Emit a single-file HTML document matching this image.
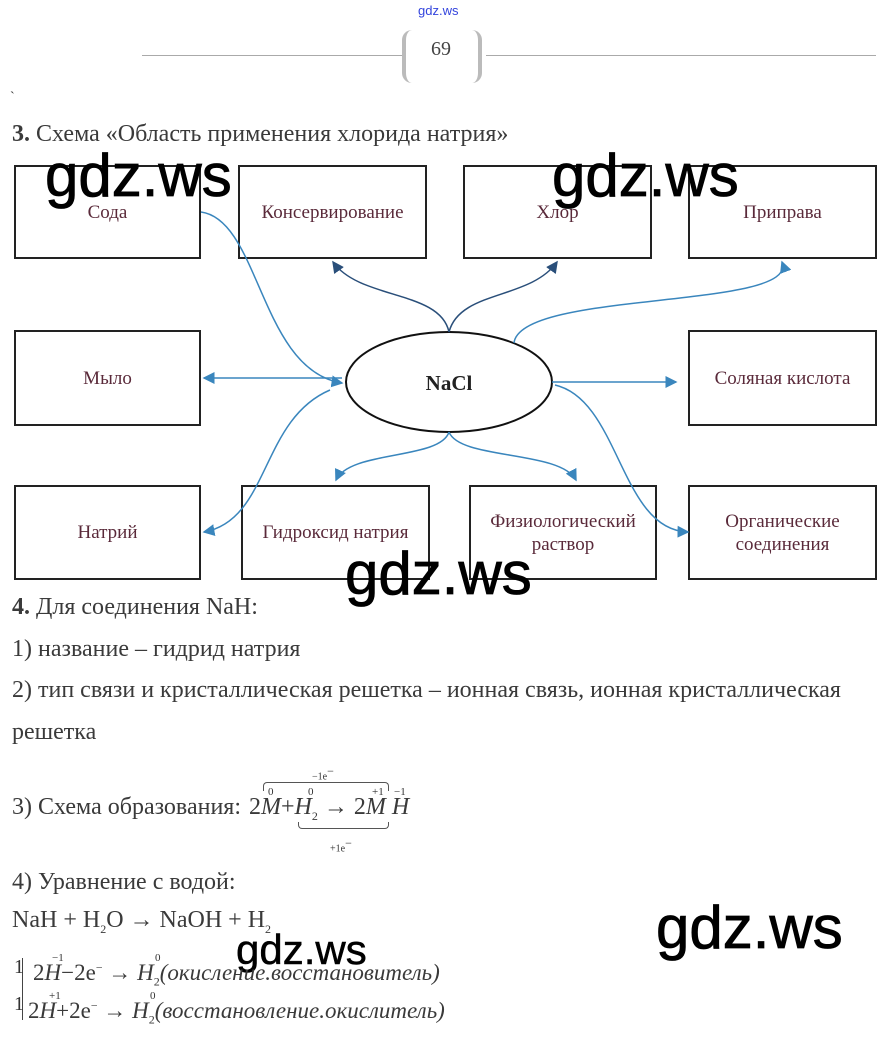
<!DOCTYPE html>
<html><head><meta charset="utf-8"><style>
body{margin:0;width:890px;height:1045px;background:#fff;position:relative;overflow:hidden;font-family:"Liberation Serif",serif;color:#333}
.a{position:absolute;white-space:nowrap}
.t{font-size:24px;color:#3a3a3a}
.wm{position:absolute;font-family:"Liberation Sans",sans-serif;font-size:60px;color:#000;line-height:1;letter-spacing:0px;-webkit-text-stroke:0.8px #000}
.box{position:absolute;border:2px solid #222;box-sizing:border-box;display:flex;align-items:center;justify-content:center;text-align:center;font-size:19px;color:#5a2a3a;line-height:23px}
i{font-style:italic}
sup,sub{font-size:12px}
</style></head><body>
<div class="a" style="left:418px;top:3px;font-family:'Liberation Sans',sans-serif;font-size:13px;color:#3344dd">gdz.ws</div>
<div class="a" style="left:142px;top:55px;width:260px;height:1px;background:#aaa"></div>
<div class="a" style="left:486px;top:55px;width:390px;height:1px;background:#aaa"></div>
<div class="a" style="left:402px;top:30px;width:80px;height:53px;border-left:4px solid #bbb;border-right:4px solid #bbb;border-radius:10px;box-sizing:border-box"></div>
<div class="a" style="left:431px;top:38px;font-size:20px;color:#444">69</div>
<div class="a" style="left:10px;top:90px;font-size:14px">`</div>
<div class="a t" style="left:12px;top:121px"><b>3.</b> Схема «Область применения хлорида натрия»</div>

<div class="box" style="left:14px;top:165px;width:187px;height:94px">Сода</div>
<div class="box" style="left:238px;top:165px;width:189px;height:94px">Консервирование</div>
<div class="box" style="left:463px;top:165px;width:189px;height:94px">Хлор</div>
<div class="box" style="left:688px;top:165px;width:189px;height:94px">Приправа</div>
<div class="box" style="left:14px;top:330px;width:187px;height:96px">Мыло</div>
<div class="box" style="left:688px;top:330px;width:189px;height:96px">Соляная кислота</div>
<div class="box" style="left:14px;top:485px;width:187px;height:95px">Натрий</div>
<div class="box" style="left:241px;top:485px;width:189px;height:95px">Гидроксид натрия</div>
<div class="box" style="left:469px;top:485px;width:188px;height:95px">Физиологический<br>раствор</div>
<div class="box" style="left:688px;top:485px;width:189px;height:95px">Органические<br>соединения</div>

<svg class="a" style="left:0;top:0" width="890" height="600">
<defs><marker id="m" markerWidth="8" markerHeight="8" refX="7" refY="4" orient="auto"><path d="M0,0L8,4L0,8z" fill="#3a86bd"/></marker>
<marker id="m2" markerWidth="8" markerHeight="8" refX="7" refY="4" orient="auto"><path d="M0,0L8,4L0,8z" fill="#2a4f7a"/></marker></defs>
<ellipse cx="449" cy="382" rx="103" ry="50" fill="#fff" stroke="#111" stroke-width="2"/>
<g fill="none" stroke="#3a86bd" stroke-width="1.5">
<path d="M201,212 C260,220 260,370 342,383" marker-end="url(#m)"/>
<path d="M449,332 C440,290 360,300 333,262" stroke="#2a4f7a" marker-end="url(#m2)"/>
<path d="M449,332 C460,290 530,300 557,262" stroke="#2a4f7a" marker-end="url(#m2)"/>
<path d="M514,343 C520,290 800,310 782,262" marker-end="url(#m)"/>
<path d="M342,378 L204,378" marker-end="url(#m)"/>
<path d="M552,382 L676,382" marker-end="url(#m)"/>
<path d="M330,390 C260,420 270,520 204,532" marker-end="url(#m)"/>
<path d="M449,432 C440,460 350,450 336,480" marker-end="url(#m)"/>
<path d="M449,432 C460,460 560,450 576,480" marker-end="url(#m)"/>
<path d="M555,385 C620,400 620,530 688,532" marker-end="url(#m)"/>
</g>
<text x="449" y="390" text-anchor="middle" font-family="Liberation Serif" font-weight="bold" font-size="21" fill="#222">NaCl</text>
</svg>

<div class="wm" style="left:45px;top:146px">gdz.ws</div>
<div class="wm" style="left:552px;top:146px">gdz.ws</div>
<div class="wm" style="left:345px;top:544px">gdz.ws</div>
<div class="wm" style="left:656px;top:898px">gdz.ws</div>
<div class="wm" style="left:236px;top:929px;font-size:42px;-webkit-text-stroke:0.5px #000">gdz.ws</div>

<div class="a t" style="left:12px;top:594px"><b>4.</b> Для соединения NaH:</div>
<div class="a t" style="left:12px;top:636px">1) название – гидрид натрия</div>
<div class="a t" style="left:12px;top:677px">2) тип связи и кристаллическая решетка – ионная связь, ионная кристаллическая</div>
<div class="a t" style="left:12px;top:719px">решетка</div>
<div class="a t" style="left:12px;top:794px">3) Схема образования:</div>
<div class="a" style="left:249px;top:794px;font-size:24px;color:#3a3a3a">2<i>M</i>+<i>H</i><sub>2</sub> → 2<i>M</i> <i>H</i></div>
<div class="a" style="left:263px;top:782px;width:124px;height:8px;border:1px solid #555;border-bottom:none;border-radius:4px 4px 0 0"></div>
<div class="a" style="left:298px;top:822px;width:89px;height:6px;border:1px solid #555;border-top:none;border-radius:0 0 4px 4px"></div>
<div class="a" style="left:312px;top:764px;font-size:10px">−1e<sup>−</sup></div>
<div class="a" style="left:330px;top:836px;font-size:10px">+1e<sup>−</sup></div>
<div class="a" style="left:268px;top:786px;font-size:11px">0</div>
<div class="a" style="left:308px;top:786px;font-size:11px">0</div>
<div class="a" style="left:372px;top:786px;font-size:11px">+1</div>
<div class="a" style="left:394px;top:786px;font-size:11px">−1</div>
<div class="a t" style="left:12px;top:869px">4) Уравнение с водой:</div>
<div class="a t" style="left:12px;top:907px">NaH + H<sub>2</sub>O → NaOH + H<sub>2</sub></div>
<div class="a" style="left:22px;top:958px;width:1px;height:62px;background:#444"></div>
<div class="a" style="left:14px;top:956px;font-size:20px">1</div>
<div class="a" style="left:14px;top:993px;font-size:20px">1</div>
<div class="a" style="left:33px;top:960px;font-size:23px;color:#3a3a3a">2<i>H</i>−2e<sup>−</sup> → <i>H</i><sub>2</sub><i>(окисление.восстановитель)</i></div>
<div class="a" style="left:28px;top:998px;font-size:23px;color:#3a3a3a">2<i>H</i>+2e<sup>−</sup> → <i>H</i><sub>2</sub><i>(восстановление.окислитель)</i></div>
<div class="a" style="left:52px;top:952px;font-size:11px">−1</div>
<div class="a" style="left:155px;top:952px;font-size:11px">0</div>
<div class="a" style="left:49px;top:990px;font-size:11px">+1</div>
<div class="a" style="left:150px;top:990px;font-size:11px">0</div>
</body></html>
